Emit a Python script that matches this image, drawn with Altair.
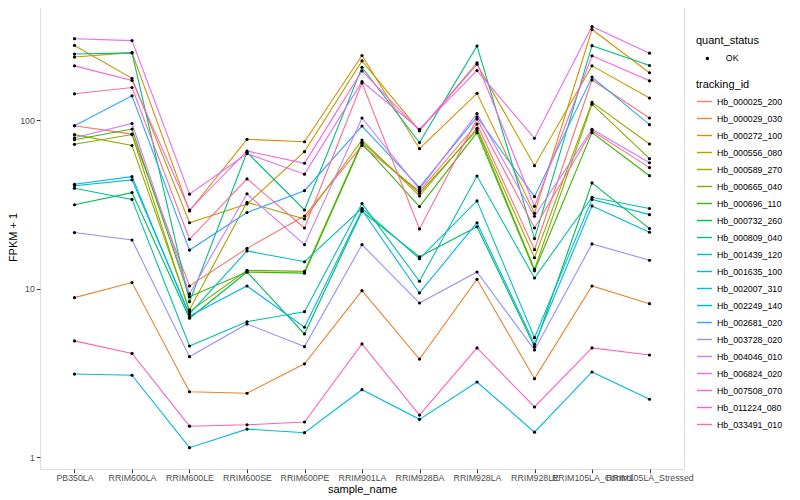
import altair as alt
import pandas as pd

samples = ["PB350LA", "RRIM600LA", "RRIM600LE", "RRIM600SE", "RRIM600PE",
           "RRIM901LA", "RRIM928BA", "RRIM928LA", "RRIM928LE",
           "RRIM105LA_Control", "RRIM105LA_Stressed"]

tracking_ids = ["Hb_000025_200", "Hb_000029_030", "Hb_000272_100", "Hb_000556_080",
                "Hb_000589_270", "Hb_000665_040", "Hb_000696_110", "Hb_000732_260",
                "Hb_000809_040", "Hb_001439_120", "Hb_001635_100", "Hb_002007_310",
                "Hb_002249_140", "Hb_002681_020", "Hb_003728_020", "Hb_004046_010",
                "Hb_006824_020", "Hb_007508_070", "Hb_011224_080", "Hb_033491_010"]

palette = ["#F8766D", "#EA8331", "#D89000", "#C09B00", "#A3A500", "#7CAE00",
           "#39B600", "#00BB4E", "#00BF7D", "#00C1A3", "#00BFC4", "#00BAE0",
           "#00B0F6", "#35A2FF", "#9590FF", "#C77CFF", "#E76BF3", "#FA62DB",
           "#FF62BC", "#FF6C91"]

# FPKM + 1 per tracking id, in sample order
v_000025_200 = [93, 83, 10.4, 17.4, 27.1, 71, 38, 95.3, 17.1, 174, 103.5]
v_000029_030 = [8.87, 10.9, 2.45, 2.40, 3.59, 9.76, 3.83, 11.4, 2.93, 10.4, 8.17]
v_000272_100 = [238, 253, 29, 77.3, 74.8, 243, 68, 145, 28.1, 347, 192]
v_000556_080 = [279, 178, 24.7, 31.9, 65.3, 226, 87, 216, 53.9, 211, 136]
v_000589_270 = [82.4, 71, 7.5, 32.7, 26, 76.6, 35.6, 89.9, 15.3, 128, 72.5]
v_000665_040 = [72.2, 82.5, 7.32, 12.9, 12.7, 74.3, 37, 87.9, 13.1, 125, 59.3]
v_000696_110 = [76.9, 89, 8.99, 12.6, 12.4, 73, 30.8, 84.7, 12.8, 84.7, 47]
v_000732_260 = [31.6, 37.3, 6.69, 12.6, 5.4, 28.9, 15.5, 23.4, 4.54, 42.6, 22.8]
v_000809_040 = [248, 252, 8.4, 64.7, 29.4, 207, 73.9, 277, 19.9, 278, 212]
v_001439_120 = [39.6, 34, 4.58, 6.38, 7.32, 32.1, 11.1, 46.8, 11.6, 35, 30]
v_001635_100 = [41, 44.4, 7.1, 16.8, 14.5, 30.1, 15.1, 33.3, 5.13, 34, 27.6]
v_002007_310 = [3.12, 3.07, 1.14, 1.47, 1.40, 2.52, 1.68, 2.80, 1.41, 3.21, 2.21]
v_002249_140 = [41.8, 46.4, 6.9, 10.4, 5.92, 29.4, 9.46, 24.7, 4.69, 31.1, 21.7]
v_002681_020 = [93, 140, 17, 28.4, 38.3, 92.7, 40.1, 105, 35.3, 181, 94.4]
v_003728_020 = [21.6, 19.5, 3.96, 6.19, 4.54, 18.3, 8.24, 12.6, 4.34, 18.5, 14.8]
v_004046_010 = [79, 96, 9.33, 36.7, 18.3, 103.5, 39, 110, 27, 88.7, 56.1]
v_006824_020 = [306, 298, 36.5, 63.5, 48, 170, 88.7, 198, 78.4, 361, 251]
v_007508_070 = [211, 173, 29.4, 65.9, 55.7, 197, 87, 220, 30.9, 242, 172]
v_011224_080 = [4.91, 4.14, 1.53, 1.56, 1.62, 4.71, 1.78, 4.46, 1.99, 4.46, 4.05]
v_033491_010 = [144, 157, 19.7, 45, 23, 167, 22.7, 102, 23, 87, 52.5]

series = [v_000025_200, v_000029_030, v_000272_100, v_000556_080, v_000589_270,
          v_000665_040, v_000696_110, v_000732_260, v_000809_040, v_001439_120,
          v_001635_100, v_002007_310, v_002249_140, v_002681_020, v_003728_020,
          v_004046_010, v_006824_020, v_007508_070, v_011224_080, v_033491_010]

minor_breaks = [3.1623, 31.623, 316.23]
major_breaks = [1, 10, 100]

rows = []
for tid, vals in zip(tracking_ids, series):
    for i, (s, v) in enumerate(zip(samples, vals)):
        rows.append({"tracking_id": tid, "sample_name": s, "idx": i,
                     "fpkm": v, "quant_status": "OK"})
df = pd.DataFrame(rows)

FONT = "Liberation Sans"

yscale = alt.Scale(type="log", domain=[0.852, 485], nice=False, zero=False)
yaxis = alt.Axis(title="FPKM + 1", values=major_breaks, format="d",
                 grid=True, gridColor="white", gridWidth=1.1,
                 domain=False, tickColor="#333333", tickSize=3.67, tickWidth=1,
                 labelColor="#4D4D4D", labelFontSize=8.8, labelPadding=2,
                 labelFont=FONT, titleFont=FONT, titleFontSize=11,
                 titleFontWeight="normal", titleColor="black",
                 titleX=-27, titleY=232, titleAngle=270, titleBaseline="middle",
                 titleAlign="center")
xscale = alt.Scale(type="point", padding=0.6)
xaxis = alt.Axis(title="sample_name", labelAngle=0, labelOverlap=False,
                 grid=True, gridColor="white", gridWidth=1.1,
                 domain=False, tickColor="#333333", tickSize=3.67, tickWidth=1,
                 labelColor="#4D4D4D", labelFontSize=8.8, labelPadding=1,
                 labelFont=FONT, titleFont=FONT, titleFontSize=11,
                 titleFontWeight="normal", titleColor="black",
                 titleY=20, titleBaseline="middle", titleX=322)

x_enc = alt.X("sample_name:N", sort=samples, scale=xscale, axis=xaxis)
y_enc = alt.Y("fpkm:Q", scale=yscale, axis=yaxis)

minor = alt.Chart(pd.DataFrame({"fpkm": minor_breaks})).mark_rule(
    color="white", strokeWidth=0.55
).encode(y=y_enc)

lines = alt.Chart(df).mark_line(strokeWidth=1.1).encode(
    x=x_enc, y=y_enc,
    color=alt.Color("tracking_id:N", sort=tracking_ids,
                    scale=alt.Scale(domain=tracking_ids, range=palette),
                    legend=alt.Legend(title="tracking_id", orient="none",
                                      legendX=656, legendY=74, padding=0,
                                      titleFont=FONT, titleFontSize=11,
                                      titleFontWeight="normal", titleColor="black",
                                      titlePadding=3, labelFont=FONT,
                                      labelFontSize=8.8, labelColor="black",
                                      symbolType="stroke", symbolSize=225,
                                      symbolStrokeWidth=1.4, rowPadding=3.0,
                                      labelOffset=4)),
    order=alt.Order("idx:Q"),
)

points = alt.Chart(df).mark_point(filled=True, size=10, opacity=1).encode(
    x=x_enc, y=y_enc,
    color=alt.value("black"),
    shape=alt.Shape("quant_status:N", scale=alt.Scale(range=["circle"]),
                    legend=alt.Legend(title="quant_status", orient="none",
                                      legendX=656, legendY=30, padding=0,
                                      titleFont=FONT, titleFontSize=11,
                                      titleFontWeight="normal", titleColor="black",
                                      titlePadding=8, labelFont=FONT,
                                      labelFontSize=8.8, labelColor="black",
                                      symbolFillColor="black", symbolStrokeColor="black",
                                      symbolSize=12, symbolOffset=7,
                                      labelOffset=14)),
)

chart = alt.layer(minor, lines, points).properties(
    width=644, height=464,
    padding={"left": 32, "top": -3, "right": 108, "bottom": 27},
    autosize=alt.AutoSizeParams(type="none"),
).configure_view(fill="#EBEBEB", stroke=None).configure(font=FONT)

chart.save("out.html", embed_options={"renderer": "svg", "actions": False})
